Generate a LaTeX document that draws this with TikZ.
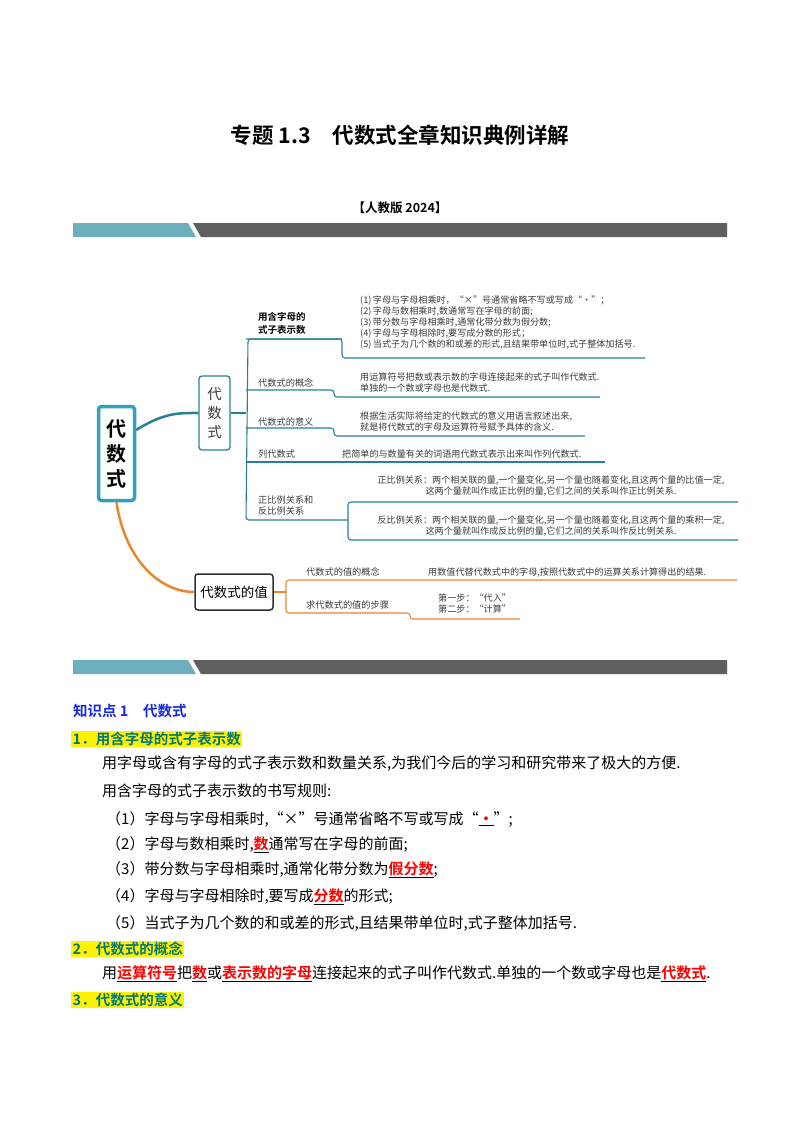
\documentclass[tikz,border=0pt]{standalone}
\usepackage{fontspec}
\setmainfont{Noto Sans CJK SC}
\newfontfamily\cjkb{Noto Sans CJK SC Bold}
\definecolor{mmteal}{RGB}{40,128,150}
\definecolor{rootteal}{RGB}{52,160,190}
\definecolor{mmorange}{RGB}{230,135,50}
\definecolor{bannerteal}{RGB}{110,175,190}
\definecolor{bannergrey}{RGB}{95,95,95}
\definecolor{hdgreen}{RGB}{0,120,120}
\definecolor{kblue}{RGB}{20,40,230}
\definecolor{txtgrey}{RGB}{60,60,60}
\newcommand{\rdu}[1]{\underline{\textcolor{red}{\cjkb #1}}}
\begin{document}
\begin{tikzpicture}[x=1pt,y=-1pt,
  small/.style={font=\fontsize{9.1}{11}\selectfont,text=txtgrey,inner sep=0,anchor=west},
  lbl/.style={font=\fontsize{9.2}{11}\selectfont,text=txtgrey,inner sep=0,anchor=west},
  tl/.style={mmteal,line width=1.1pt,rounded corners=3},
  ol/.style={mmorange,line width=1.1pt,rounded corners=3},
  body/.style={font=\fontsize{15}{17}\selectfont,inner sep=0,anchor=west},
  hd/.style={font=\cjkb\fontsize{14.5}{16}\selectfont,text=hdgreen,fill=yellow,inner sep=1.5pt,anchor=west}]
\useasboundingbox[fill=white] (0,0) rectangle (800,1132);
\node[font=\cjkb\fontsize{21.5}{24}\selectfont] (title) at (400,135) {专题 1.3\quad 代数式全章知识典例详解};
\node[font=\cjkb\fontsize{12.5}{14}\selectfont] (ed) at (400,208) {【人教版 2024】};
% banners
\fill[bannerteal] (73,223) -- (188,223) -- (196,237) -- (73,237) -- cycle;
\fill[bannergrey] (193,223) -- (727,223) -- (727,237) -- (201,237) -- cycle;
\fill[bannerteal] (73,660) -- (188,660) -- (196,674) -- (73,674) -- cycle;
\fill[bannergrey] (193,660) -- (727,660) -- (727,674) -- (201,674) -- cycle;
% mind map
\node[draw=rootteal,line width=3.5pt,rounded corners=3,minimum width=36pt,minimum height=94pt,inner sep=0,
  font=\cjkb\fontsize{20}{24}\selectfont,align=center] (root) at (116.5,453.5) {代\\[1pt]数\\[1pt]式};
\node[draw=mmteal,line width=1.3pt,rounded corners=3,minimum width=31pt,minimum height=74pt,inner sep=0,
  font=\fontsize{14.5}{19}\selectfont,text=txtgrey,align=center] (b1) at (214.5,413) {代\\数\\式};
\node[draw=txtgrey!80!black,line width=1.5pt,rounded corners=3,minimum width=78pt,minimum height=36pt,inner sep=0,
  font=\fontsize{13.5}{16}\selectfont,text=black] (b2) at (234,592) {代数式的值};
\draw[mmteal,line width=2.5pt] (root.east|-0,430) .. controls (165,412) and (180,413) .. (b1.west);
\draw[mmorange,line width=2.5pt] (root.south) .. controls (125,560) and (160,592) .. (b2.west);
\coordinate (v) at (246,413);
\draw[tl] (b1.east) -- (v);
% teal branches
\draw[tl] (342,339) -- (248,339) -- (246,520) -- (348,520);
\draw[tl] (246,339) -- (342,339) -- (342,358) -- (645,358);
\draw[tl] (246,390) -- (334,390) -- (334,397) -- (600,397);
\draw[tl] (246,428) -- (334,428) -- (334,436) -- (585,436);
\draw[tl] (246,462) -- (605,462);
\draw[tl] (738,502) -- (348,502) -- (348,540) -- (738,540);
\node[lbl,font=\cjkb\fontsize{9.5}{13}\selectfont,text=black,align=left] (l1) at (258,323) {用含字母的\\式子表示数};
\node[small,align=left] (t1) at (360,323) {(1)\,字母与字母相乘时，“×”号通常省略不写或写成“·”；\\(2)\,字母与数相乘时,数通常写在字母的前面;\\(3)\,带分数与字母相乘时,通常化带分数为假分数;\\(4)\,字母与字母相除时,要写成分数的形式；\\(5)\,当式子为几个数的和或差的形式,且结果带单位时,式子整体加括号.};
\node[lbl] (l2) at (258,383) {代数式的概念};
\node[small,align=left] (t2) at (360,382.5) {用运算符号把数或表示数的字母连接起来的式子叫作代数式.\\单独的一个数或字母也是代数式.};
\node[lbl] (l3) at (258,422) {代数式的意义};
\node[small,align=left] (t3) at (360,421.5) {根据生活实际将给定的代数式的意义用语言叙述出来,\\就是将代数式的字母及运算符号赋予具体的含义.};
\node[lbl] (l4) at (258,454) {列代数式};
\node[small] (t4) at (342,454) {把简单的与数量有关的词语用代数式表示出来叫作列代数式.};
\node[lbl,align=left] (l5) at (258,506) {正比例关系和\\反比例关系};
\node[small,anchor=center,align=center] (t5) at (551,485.5) {正比例关系：两个相关联的量,一个量变化,另一个量也随着变化,且这两个量的比值一定,\\这两个量就叫作成正比例的量,它们之间的关系叫作正比例关系.};
\node[small,anchor=center,align=center] (t6) at (551,526) {反比例关系：两个相关联的量,一个量变化,另一个量也随着变化,且这两个量的乘积一定,\\这两个量就叫作成反比例的量,它们之间的关系叫作反比例关系.};
% orange branches
\draw[ol] (b2.east) -- (286,592);
\draw[ol] (737,580) -- (286,580) -- (286,613) -- (410,613) -- (410,619) -- (520,619);
\node[lbl] (l6) at (306,572) {代数式的值的概念};
\node[small] (t7) at (428,572.5) {用数值代替代数式中的字母,按照代数式中的运算关系计算得出的结果.};
\node[lbl] (l7) at (306,605) {求代数式的值的步骤};
\node[small,align=left] (t8) at (438,604) {第一步：“代入”\\第二步：“计算”};
% body text
\node[font=\cjkb\fontsize{14.5}{16}\selectfont,text=kblue,inner sep=0,anchor=west] (k1) at (73,711) {知识点 1\quad 代数式};
\node[hd] (h1) at (71,739) {1．用含字母的式子表示数};
\node[body] (p1) at (102,764) {用字母或含有字母的式子表示数和数量关系,为我们今后的学习和研究带来了极大的方便.};
\node[body] (p2) at (102,791) {用含字母的式子表示数的书写规则:};
\node[body] (r1) at (106,819) {（1）字母与字母相乘时,“×”号通常省略不写或写成“\rdu{·}”;};
\node[body] (r2) at (106,845) {（2）字母与数相乘时,\rdu{数}通常写在字母的前面;};
\node[body] (r3) at (106,870) {（3）带分数与字母相乘时,通常化带分数为\rdu{假分数};};
\node[body] (r4) at (106,897) {（4）字母与字母相除时,要写成\rdu{分数}的形式;};
\node[body] (r5) at (106,923) {（5）当式子为几个数的和或差的形式,且结果带单位时,式子整体加括号.};
\node[hd] (h2) at (71,949) {2．代数式的概念};
\node[body] (p3) at (102,974) {用\rdu{运算符号}把\rdu{数}或\rdu{表示数的字母}连接起来的式子叫作代数式.单独的一个数或字母也是\rdu{代数式}.};
\node[hd] (h3) at (71,1000) {3．代数式的意义};
\end{tikzpicture}
\end{document}
